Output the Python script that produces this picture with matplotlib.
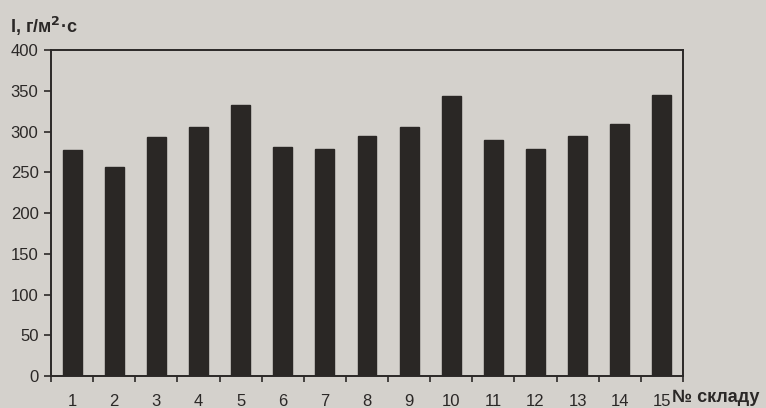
import matplotlib
matplotlib.use("Agg")
import matplotlib.pyplot as plt
import numpy as np

categories = [str(i) for i in range(1, 16)]
values = [277, 256, 293, 305, 332, 281, 278, 295, 305, 343, 289, 279, 295, 309, 345]
yticks = [0, 50, 100, 150, 200, 250, 300, 350, 400]

bg = '#d4d1cc'
bar_color = '#2a2725'
ink = '#2b2827'

plt.rcParams['font.family'] = ['Liberation Sans', 'DejaVu Sans']

fig = plt.figure(figsize=(7.66, 4.08), dpi=100, facecolor=bg)
ax = fig.add_axes([0.0666, 0.0784, 0.825, 0.799], facecolor=bg)

x = np.arange(len(categories))
ax.bar(x, values, width=0.45, color=bar_color, edgecolor=bar_color)

ax.set_xlim(-0.5, len(categories) - 0.5)
ax.set_ylim(0, 400)
ax.set_yticks(yticks)
ax.set_yticklabels([str(v) for v in yticks], fontsize=12, color=ink)

# minor ticks at category boundaries, labels centred
ax.set_xticks(x)
ax.set_xticklabels(categories, fontsize=12, color=ink)
ax.tick_params(axis='x', which='major', length=0, pad=13)
ax.set_xticks(np.arange(-0.5, len(categories) + 0.5, 1), minor=True)
ax.tick_params(axis='x', which='minor', length=4, width=1.2, color=ink, direction='out')
ax.tick_params(axis='y', length=5, width=1.2, color=ink, direction='out', pad=4)

for s in ax.spines.values():
    s.set_color(ink)
    s.set_linewidth(1.4)

fig.text(10 / 766, 1 - 26 / 408, 'I, г/м$^{\\mathbf{2}}$·с', fontsize=13, fontweight='bold',
         color=ink, va='center', ha='left')
fig.text(672 / 766, 1 - 398 / 408, '№ складу', fontsize=13, fontweight='bold',
         color=ink, va='center', ha='left')

fig.savefig('out.png', dpi=100, facecolor=bg)
